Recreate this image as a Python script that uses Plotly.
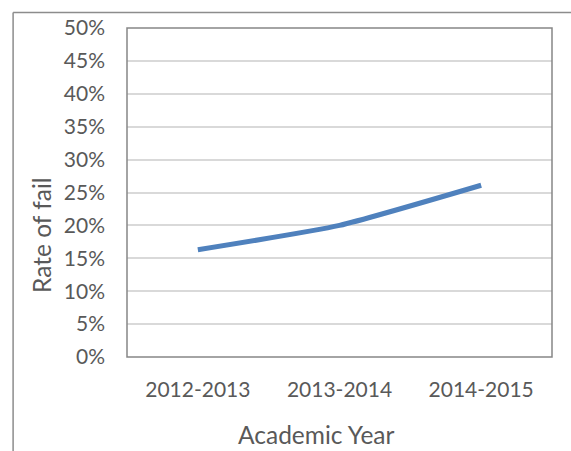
import plotly.graph_objects as go

# Fail rate by academic year
years = ["2012-2013", "2013-2014", "2014-2015"]
fail_rate = [0.163, 0.200, 0.261]

y_ticks = [i * 0.05 for i in range(11)]
y_tick_labels = [f"{i * 5}%" for i in range(11)]

font_family = "Lato, Carlito, Calibri, sans-serif"
text_color = "#595959"

fig = go.Figure()
fig.add_trace(go.Scatter(
    x=years,
    y=fail_rate,
    mode="lines",
    line=dict(color="#4f81bd", width=5, shape="spline", smoothing=0.5),
    hoverinfo="x+y",
))

fig.update_layout(
    width=571,
    height=451,
    margin=dict(l=127, r=19, t=28, b=94),
    paper_bgcolor="white",
    plot_bgcolor="white",
    showlegend=False,
    font=dict(family=font_family, color=text_color, size=21),
    xaxis=dict(
        range=[-0.5, 2.5],
        showgrid=False,
        zeroline=False,
        ticks="",
        tickfont=dict(size=21, color=text_color),
        ticklabelstandoff=18,
    ),
    yaxis=dict(
        range=[0, 0.5],
        tickvals=y_ticks,
        ticktext=y_tick_labels,
        showgrid=True,
        gridcolor="#d9d9d9",
        gridwidth=1.5,
        zeroline=False,
        ticks="",
        tickfont=dict(size=21, color=text_color),
        ticklabelstandoff=21,
    ),
    shapes=[
        # plot area frame
        dict(type="rect", xref="paper", yref="paper", x0=0, y0=0, x1=1, y1=1,
             line=dict(color="#868686", width=1.5), layer="above"),
        # chart area border (left and top edges)
        dict(type="line", xref="paper", yref="paper", x0=-0.268, y0=1.047, x1=-0.268, y1=-0.4,
             line=dict(color="#8c8c8c", width=1.5)),
        dict(type="line", xref="paper", yref="paper", x0=-0.268, y0=1.047, x1=1.2, y1=1.047,
             line=dict(color="#8c8c8c", width=1.5)),
    ],
    annotations=[
        dict(text="Rate of fail", xref="paper", yref="paper",
             x=-0.200, y=0.371, textangle=-90, showarrow=False,
             font=dict(size=24.5, color=text_color), xanchor="center", yanchor="middle"),
        dict(text="Academic Year", xref="paper", yref="paper",
             x=0.445, y=-0.237, showarrow=False,
             font=dict(size=24.5, color=text_color), xanchor="center", yanchor="middle"),
    ],
)

fig.write_html("out.html")
